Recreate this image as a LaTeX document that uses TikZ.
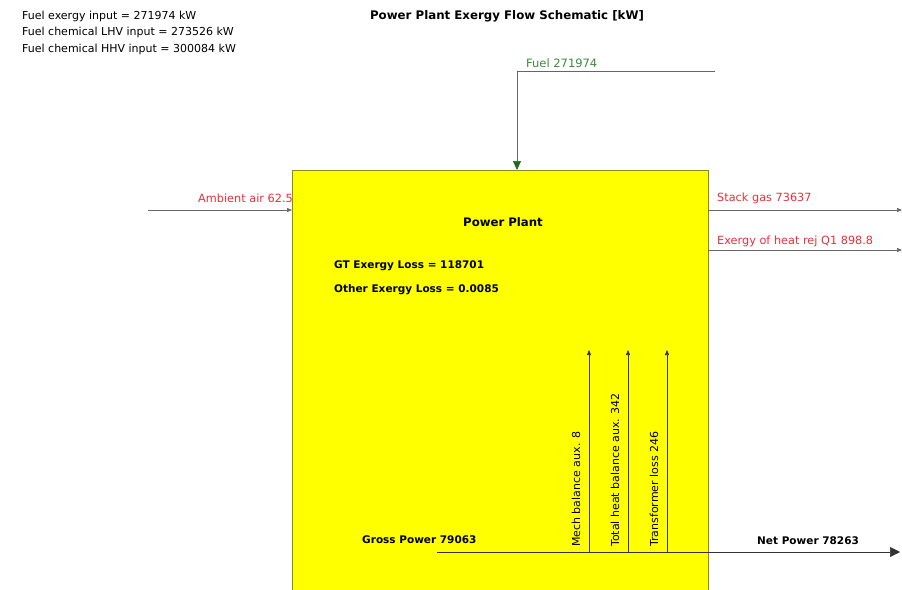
\documentclass[tikz,border=0pt]{standalone}
\usepackage{fontspec}
\setmainfont{DejaVu Sans}
\usetikzlibrary{arrows.meta}
\definecolor{lossred}{HTML}{E8303A}
\definecolor{fuelgreen}{HTML}{3A8A3A}
\definecolor{tipgreen}{HTML}{1E6A1E}
\definecolor{plantyellow}{HTML}{FFFF00}
\definecolor{boxedge}{HTML}{8A8A20}
\tikzset{
  info/.style={font=\fontsize{11}{12}\selectfont, anchor=west, inner sep=0pt},
  boldlbl/.style={font=\bfseries\fontsize{10.5}{12}\selectfont, inner sep=0pt},
  redlbl/.style={font=\fontsize{11.3}{12}\selectfont, text=lossred, inner sep=0pt},
  flowline/.style={draw=gray!80!black, line width=0.6pt},
  smalltip/.style={-{Triangle[length=5pt,width=4pt]}},
  bigtip/.style={-{Triangle[length=10pt,width=10pt]}},
  fueltip/.style={-{Triangle[length=9pt,width=8pt,color=tipgreen]}},
  vlbl/.style={font=\fontsize{11}{12}\selectfont, rotate=90, anchor=west, inner sep=0pt}
}
\begin{document}
\begin{tikzpicture}[x=1pt,y=-1pt]
\useasboundingbox (0,0) rectangle (902,589);
\clip (0,0) rectangle (902,589);

% header texts
\node[info] (t1) at (22,16) {Fuel exergy input = 271974 kW};
\node[info] (t2) at (22,32.5) {Fuel chemical LHV input = 273526 kW};
\node[info] (t3) at (22,49) {Fuel chemical HHV input = 300084 kW};
\node[boldlbl, font=\bfseries\fontsize{11.8}{13}\selectfont] (title) at (507,16) {Power Plant Exergy Flow Schematic [kW]};

% plant box
\node[draw=boxedge, fill=plantyellow, line width=0.8pt, minimum width=416pt, minimum height=430pt, inner sep=0pt] (plant) at (500,385) {};
\node[boldlbl, font=\bfseries\fontsize{11.7}{13}\selectfont] (plantname) at (503,222) {Power Plant};
\node[boldlbl, anchor=west] (gtloss) at (334,266) {GT Exergy Loss = 118701};
\node[boldlbl, anchor=west] (otherloss) at (334,290) {Other Exergy Loss = 0.0085};

% fuel
\coordinate (fuelstart) at (715,71);
\coordinate (fuelcorner) at (517,71);
\coordinate (fuelin) at (517,170);
\node[font=\fontsize{11.5}{12}\selectfont, text=fuelgreen, anchor=west, inner sep=0pt] (fuellbl) at (526,63) {Fuel 271974};
\draw[flowline] (fuelstart) -- (fuelcorner);
\draw[flowline, fueltip] (fuelcorner) -- (fuelin);

% ambient air
\coordinate (airstart) at (148,210);
\coordinate (airin) at (292,210);
\node[redlbl, anchor=east] (airlbl) at (293,198) {Ambient air 62.5};
\draw[flowline, smalltip] (airstart) -- (airin);

% stack gas
\coordinate (stackout) at (708,210);
\coordinate (stackend) at (902,210);
\node[redlbl, anchor=west] (stacklbl) at (717,198) {Stack gas 73637};
\draw[flowline, smalltip] (stackout) -- (stackend);

% heat rejection
\coordinate (heatout) at (708,250);
\coordinate (heatend) at (902,250);
\node[redlbl, anchor=west] (heatlbl) at (717,241) {Exergy of heat rej Q1 898.8};
\draw[flowline, smalltip] (heatout) -- (heatend);

% gross / net power
\coordinate (grossstart) at (437,552);
\coordinate (netend) at (900,552);
\node[boldlbl, anchor=west] (grosslbl) at (362,540) {Gross Power 79063};
\node[boldlbl, anchor=west] (netlbl) at (757,541) {Net Power 78263};
\draw[flowline, draw=black!80, bigtip] (grossstart) -- (netend);

% auxiliary losses
\coordinate (a1b) at (589,552); \coordinate (a1t) at (589,350);
\coordinate (a2b) at (628,552); \coordinate (a2t) at (628,350);
\coordinate (a3b) at (667,552); \coordinate (a3t) at (667,350);
\draw[flowline, draw=black!80, smalltip] (a1b) -- (a1t);
\draw[flowline, draw=black!80, smalltip] (a2b) -- (a2t);
\draw[flowline, draw=black!80, smalltip] (a3b) -- (a3t);
\node[vlbl] (aux1) at (576,547) {Mech balance aux. 8};
\node[vlbl] (aux2) at (615,547) {Total heat balance aux. 342};
\node[vlbl] (aux3) at (654,547) {Transformer loss 246};
\end{tikzpicture}
\end{document}
